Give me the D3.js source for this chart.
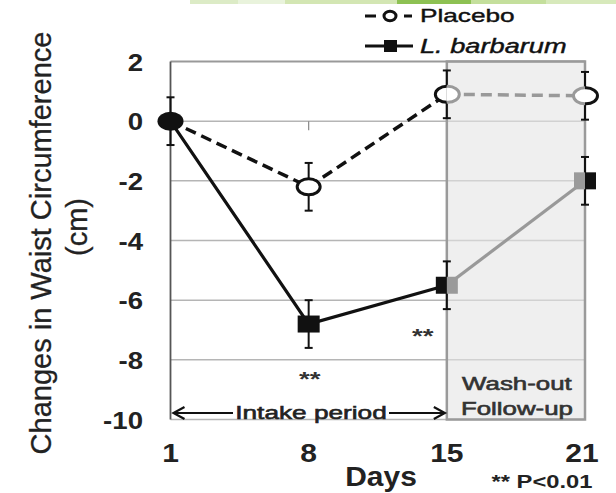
<!DOCTYPE html>
<html><head><meta charset="utf-8">
<script src="https://cdn.jsdelivr.net/npm/d3@7"></script>
<style>html,body{margin:0;padding:0;background:#fff;}svg{display:block;}</style>
</head><body>
<svg id="chart" width="616" height="493"></svg>
<script>
// ---- data ----
const days = ["1", "8", "15", "21"];
const intakeDays = ["1", "8", "15"];
const washoutDays = ["15", "21"];
const placebo = [0, -2.2, 0.9, 0.85];
const placeboErr = [0.8, 0.8, 0.8, 0.8];
const barbarum = [0, -6.8, -5.5, -2.0];
const barbarumErr = [0.8, 0.8, 0.8, 0.8];
const yTicks = [2, 0, -2, -4, -6, -8, -10];
const seriesNames = ["Placebo", "L. barbarum"];

const FONT = "'Liberation Sans', Arial, Helvetica, sans-serif";
const svg = d3.select("#chart");
const x = d3.scalePoint().domain(days).range([170.5, 585]);
const y = d3.scaleLinear().domain([-10, 2]).range([419.5, 61.5]);
const val = (arr, d) => arr[days.indexOf(d)];

function stext(g, str, px, py, opts) {
  const o = Object.assign({size: 19, sx: 1.38, anchor: "middle", weight: "normal", fill: "#111", style: "normal", thick: 0}, opts || {});
  const t = g.append("text").attr("transform", `translate(${px},${py}) scale(${o.sx},1)`)
    .attr("text-anchor", o.anchor).attr("font-family", FONT).attr("font-size", o.size)
    .attr("font-weight", o.weight).attr("font-style", o.style).attr("fill", o.fill).text(str);
  if (o.thick) t.attr("stroke", o.fill).attr("stroke-width", o.thick);
  return t;
}

// top decorative band
const band = [[190, 238, "#dcebc6"], [238, 285, "#e9f3dc"], [285, 397, "#d3e6b3"], [397, 471, "#8dc153"], [471, 546, "#c4df9c"], [546, 616, "#d7e9bb"]];
band.forEach(b => svg.append("rect").attr("x", b[0]).attr("y", 0).attr("width", b[1] - b[0]).attr("height", 4).attr("fill", b[2]));

// gridlines
svg.append("g").selectAll("line").data(yTicks).join("line")
  .attr("x1", x("1")).attr("x2", x("21")).attr("y1", d => y(d)).attr("y2", d => y(d))
  .attr("stroke", d => d === 2 ? "#999" : "#b5b5b5").attr("stroke-width", d => d === 2 ? 2 : 1.5);

// wash-out box
svg.append("rect").attr("x", x("15")).attr("y", y(2)).attr("width", x("21") - x("15")).attr("height", y(-10) - y(2))
  .attr("fill", "#e4e4e4").attr("fill-opacity", 0.6).attr("stroke", "#9a9a9a").attr("stroke-width", 2.5);

// y axis line + small x tick at 0
svg.append("line").attr("x1", x("1")).attr("x2", x("1")).attr("y1", y(2)).attr("y2", y(-10)).attr("stroke", "#555").attr("stroke-width", 1.8);
svg.append("line").attr("x1", x("8")).attr("x2", x("8")).attr("y1", y(0)).attr("y2", y(0) + 9).attr("stroke", "#888").attr("stroke-width", 1.2);

// y tick labels
yTicks.forEach(t => stext(svg, String(t), 143, y(t) + 9, {size: 24, sx: 1.15, anchor: "end", weight: "bold", fill: "#222"}));
// x tick labels
days.forEach(d => stext(svg, d, x(d) - (d === "21" ? 3 : 0), 462, {size: 25, sx: 1.2, weight: "bold", fill: "#222"}));
stext(svg, "Days", 381, 486, {size: 28, sx: 1.07, weight: "bold", fill: "#222"});
stext(svg, "** P<0.01", 542, 488, {size: 18, sx: 1.32, weight: "bold", fill: "#222"});

// y axis title
svg.append("text").attr("transform", "translate(51,243) rotate(-90)").attr("text-anchor", "middle")
  .attr("font-family", FONT).attr("font-size", 29).attr("fill", "#222").attr("stroke", "#222").attr("stroke-width", 0.3)
  .text("Changes in Waist Circumference");
svg.append("text").attr("transform", "translate(87,227) rotate(-90)").attr("text-anchor", "middle")
  .attr("font-family", FONT).attr("font-size", 29).attr("fill", "#222").attr("stroke", "#222").attr("stroke-width", 0.3).text("(cm)");

// intake period arrow
const ay = 413;
svg.append("path").attr("d", `M${x("1") + 3},${ay}H233 M389,${ay}H${x("15") - 2}`).attr("stroke", "#111").attr("stroke-width", 2.2).attr("fill", "none");
svg.append("path").attr("d", `M${x("1") + 14},${ay - 6}L${x("1") + 3},${ay}L${x("1") + 14},${ay + 6} M${x("15") - 13},${ay - 6}L${x("15") - 2},${ay}L${x("15") - 13},${ay + 6}`)
  .attr("stroke", "#111").attr("stroke-width", 2.2).attr("fill", "none");
stext(svg, "Intake period", 311, 419, {size: 19, sx: 1.38, fill: "#222", thick: 0.6});
stext(svg, "Wash-out", (x("15") + x("21")) / 2 + 1, 390, {size: 18.6, sx: 1.39, fill: "#333", thick: 0.6});
stext(svg, "Follow-up", (x("15") + x("21")) / 2 + 1, 415, {size: 18.6, sx: 1.39, fill: "#333", thick: 0.6});

// significance marks
stext(svg, "**", x("8") + 1, 386, {size: 20, sx: 1.38, fill: "#333", weight: "bold"});
stext(svg, "**", x("15") - 24, 343, {size: 20, sx: 1.38, fill: "#333", weight: "bold"});

// lines
const line = (arr) => d3.line().x(d => x(d)).y(d => y(val(arr, d)));
svg.append("path").attr("d", line(placebo)(intakeDays)).attr("fill", "none").attr("stroke", "#111").attr("stroke-width", 3.5).attr("stroke-dasharray", "11,6");
svg.append("path").attr("d", line(barbarum)(intakeDays)).attr("fill", "none").attr("stroke", "#111").attr("stroke-width", 3.2);
svg.append("path").attr("d", line(placebo)(washoutDays)).attr("fill", "none").attr("stroke", "#999").attr("stroke-width", 3.5).attr("stroke-dasharray", "11,6");
svg.append("path").attr("d", line(barbarum)(washoutDays)).attr("fill", "none").attr("stroke", "#999").attr("stroke-width", 3.2);

// error bars
function errbar(arr, err, d) {
  const cx = x(d), v = val(arr, d), e = val(err, d);
  const g = svg.append("g").attr("stroke", "#111").attr("stroke-width", 2);
  g.append("line").attr("x1", cx).attr("x2", cx).attr("y1", y(v + e)).attr("y2", y(v - e));
  g.append("line").attr("x1", cx - 4).attr("x2", cx + 4).attr("y1", y(v + e)).attr("y2", y(v + e));
  g.append("line").attr("x1", cx - 4).attr("x2", cx + 4).attr("y1", y(v - e)).attr("y2", y(v - e));
}
days.forEach(d => { errbar(placebo, placeboErr, d); if (d !== "1") errbar(barbarum, barbarumErr, d); });

// clip paths for split markers
const defs = svg.append("defs");
days.forEach(d => {
  defs.append("clipPath").attr("id", "L" + d).append("rect").attr("x", x(d) - 30).attr("y", 0).attr("width", 30).attr("height", 493);
  defs.append("clipPath").attr("id", "R" + d).append("rect").attr("x", x(d)).attr("y", 0).attr("width", 30).attr("height", 493);
});
function circ(d, color, clip, dx) {
  svg.append("ellipse").attr("cx", x(d) + dx).attr("cy", y(val(placebo, d))).attr("rx", 11.5).attr("ry", 8)
    .attr("fill", "#fff").attr("stroke", color).attr("stroke-width", 3).attr("clip-path", clip ? `url(#${clip})` : null);
}
function sq(d, color, side) {
  const cx = x(d), cy = y(val(barbarum, d));
  const w = side ? 11 : 22;
  const x0 = side === "R" ? cx : cx - 11;
  svg.append("rect").attr("x", x0).attr("y", cy - 8.5).attr("width", w).attr("height", 17).attr("fill", color);
}
// day 1 (both series)
svg.append("ellipse").attr("cx", x("1")).attr("cy", y(val(barbarum, "1"))).attr("rx", 13).attr("ry", 9.5).attr("fill", "#111");
// day 8
circ("8", "#111", null, 0);
sq("8", "#111", null);
// day 15: black left, grey right
circ("15", "#111", "L15", 0);
circ("15", "#9a9a9a", "R15", 1);
sq("15", "#111", "L");
sq("15", "#9a9a9a", "R");
// day 21: grey left, black right
circ("21", "#9a9a9a", "L21", 0);
circ("21", "#111", "R21", 1);
sq("21", "#9a9a9a", "L");
sq("21", "#111", "R");

// legend
const lg = svg.append("g");
lg.append("path").attr("d", "M365,16H376 M404,16H412").attr("stroke", "#111").attr("stroke-width", 3);
lg.append("ellipse").attr("cx", 390).attr("cy", 16).attr("rx", 6).attr("ry", 4.8).attr("fill", "#fff").attr("stroke", "#111").attr("stroke-width", 3);
stext(lg, seriesNames[0], 420, 22, {size: 19, sx: 1.38, anchor: "start", fill: "#111", thick: 0.4});
lg.append("path").attr("d", "M365,46H413").attr("stroke", "#111").attr("stroke-width", 3);
lg.append("rect").attr("x", 384).attr("y", 40).attr("width", 13).attr("height", 12).attr("fill", "#111");
stext(lg, seriesNames[1], 420, 53, {size: 20, sx: 1.36, anchor: "start", fill: "#111", style: "italic", thick: 0.4});
</script>
</body></html>
